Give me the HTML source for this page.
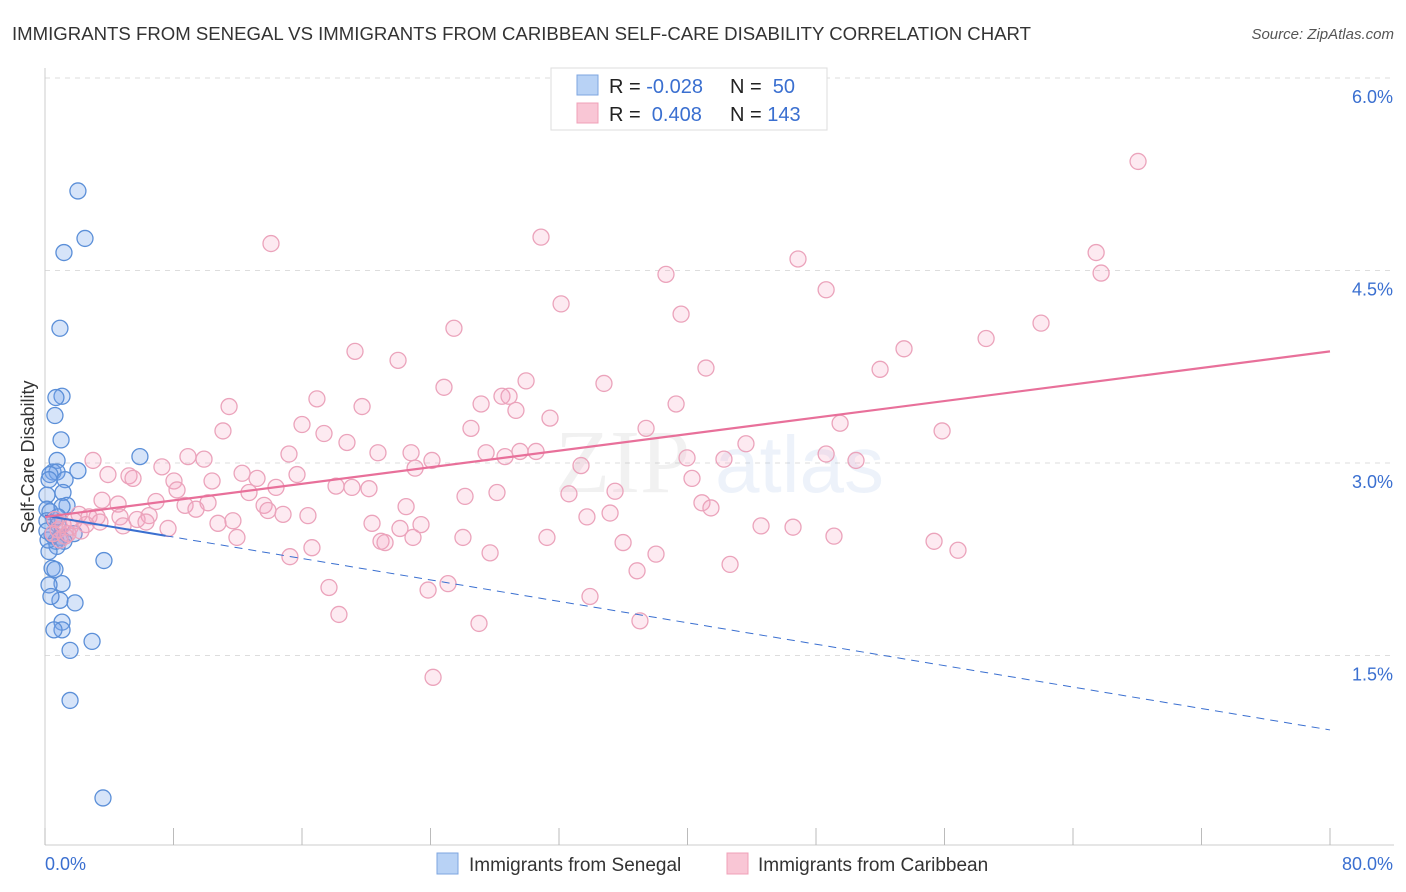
<!DOCTYPE html>
<html><head><meta charset="utf-8">
<style>
body{margin:0;background:#fff;font-family:"Liberation Sans",sans-serif;}
svg{display:block}
</style></head>
<body>
<svg id="chart" width="1406" height="892" xmlns="http://www.w3.org/2000/svg">
<text x="12" y="40" font-size="18.6" fill="#333">IMMIGRANTS FROM SENEGAL VS IMMIGRANTS FROM CARIBBEAN SELF-CARE DISABILITY CORRELATION CHART</text>
<text x="1394" y="39" font-size="15" fill="#555" text-anchor="end" font-style="italic">Source: ZipAtlas.com</text>
<g id="grid"></g>
<g opacity="0.13">
<text x="555" y="492" font-size="90" font-family="Liberation Serif" fill="#999">ZIP</text>
<text x="715" y="492" font-size="80" fill="#7aa3dd">atlas</text>
</g>
<g id="axes"></g>
<g id="blue"></g>
<g id="pink"></g>
<g id="lines"></g>
<text transform="translate(34,457) rotate(-90)" font-size="18" fill="#333" text-anchor="middle">Self-Care Disability</text>
<g>
<rect x="551" y="68" width="276" height="62" fill="#fff" stroke="#ddd"/>
<rect x="577" y="75" width="21" height="20" fill="#b8d2f5" stroke="#7ea6e0"/>
<rect x="577" y="103" width="21" height="20" fill="#f9c6d5" stroke="#f0a0b8"/>
<text x="609" y="93" font-size="20" fill="#222">R = <tspan fill="#3a6fd0">-0.028</tspan></text>
<text x="730" y="93" font-size="20" fill="#222">N = <tspan fill="#3a6fd0">&#160;50</tspan></text>
<text x="609" y="121" font-size="20" fill="#222">R = <tspan fill="#3a6fd0">&#160;0.408</tspan></text>
<text x="730" y="121" font-size="20" fill="#222">N = <tspan fill="#3a6fd0">143</tspan></text>
</g>
<g>
<rect x="437" y="853" width="21" height="21" fill="#b8d2f5" stroke="#7ea6e0"/>
<text x="469" y="871" font-size="19" fill="#333">Immigrants from Senegal</text>
<rect x="727" y="853" width="21" height="21" fill="#f9c6d5" stroke="#f0a0b8"/>
<text x="758" y="871" font-size="19" fill="#333">Immigrants from Caribbean</text>
</g>
</svg>
<script>
const yTicks=[1.5,3.0,4.5,6.0];
const yTickLabels=["1.5%","3.0%","4.5%","6.0%"];
const xTicks=[0,8,16,24,32,40,48,56,64,72,80];
const xEndLabels=["0.0%","80.0%"];
const blueX=[2.05,2.49,1.18,0.93,1.06,0.68,0.62,1.00,5.91,0.75,0.50,0.75,0.31,2.05,0.25,1.25,1.12,0.12,1.37,0.12,1.06,0.31,0.56,0.12,0.81,1.81,0.93,0.68,1.18,0.75,3.67,0.25,0.44,0.62,1.06,0.25,0.93,1.87,0.37,1.06,1.06,0.56,2.93,1.56,1.56,3.61,0.19,0.44,0.12,0.81];
const blueY=[5.12,4.75,4.64,4.05,3.52,3.51,3.37,3.18,3.05,3.02,2.93,2.93,2.91,2.94,2.87,2.87,2.77,2.75,2.67,2.64,2.66,2.62,2.56,2.55,2.52,2.45,2.42,2.39,2.39,2.35,2.24,2.31,2.18,2.17,2.06,2.05,1.93,1.91,1.96,1.76,1.70,1.70,1.61,1.54,1.15,0.39,2.40,2.44,2.47,2.58];
const pinkX=[68.05,14.07,30.88,46.88,38.66,65.44,65.75,48.63,32.13,39.60,25.46,62.01,58.59,19.30,53.48,21.98,41.15,51.99,24.84,29.95,34.80,16.93,11.46,19.74,27.15,28.45,28.89,29.32,31.44,39.29,16.00,11.08,26.52,37.42,55.85,49.50,17.37,18.80,15.19,20.73,22.79,27.46,29.57,30.57,28.64,43.64,48.63,50.49,39.97,42.27,2.99,8.90,9.90,7.28,24.09,23.04,33.37,12.27,13.20,15.69,5.23,3.92,5.48,8.03,8.22,10.40,14.38,12.70,18.12,19.11,20.17,26.15,28.14,32.62,35.49,40.28,3.55,4.55,6.91,10.15,8.72,9.40,13.64,13.88,14.82,16.37,22.48,40.90,41.46,6.48,3.24,2.12,2.74,1.81,4.67,2.55,11.70,10.77,20.36,22.10,23.41,35.18,33.74,44.58,46.57,1.12,0.81,1.43,5.73,6.29,4.86,7.66,11.95,20.92,21.17,22.91,26.02,31.25,35.99,49.12,55.35,56.84,16.62,15.25,27.71,38.04,42.65,36.86,17.68,25.09,23.85,33.93,18.30,27.02,37.04,24.16,0.93,1.25,0.62,1.56,2.24,3.42,0.50];
const pinkY=[5.35,4.71,4.76,4.59,4.47,4.64,4.48,4.35,4.24,4.16,4.05,4.09,3.97,3.87,3.89,3.80,3.74,3.73,3.59,3.64,3.62,3.50,3.44,3.44,3.46,3.52,3.52,3.41,3.35,3.46,3.30,3.25,3.27,3.27,3.25,3.31,3.23,3.16,3.07,3.08,3.08,3.08,3.09,3.09,3.05,3.15,3.07,3.02,3.04,3.03,3.02,3.05,3.03,2.97,3.02,2.96,2.98,2.92,2.88,2.91,2.90,2.91,2.88,2.86,2.79,2.86,2.81,2.77,2.82,2.81,2.80,2.74,2.77,2.76,2.78,2.88,2.71,2.68,2.70,2.69,2.67,2.64,2.67,2.63,2.60,2.59,2.66,2.69,2.65,2.59,2.58,2.60,2.58,2.55,2.58,2.52,2.55,2.53,2.53,2.49,2.52,2.61,2.58,2.51,2.50,2.52,2.48,2.45,2.56,2.54,2.51,2.49,2.42,2.39,2.38,2.42,2.42,2.42,2.38,2.43,2.39,2.32,2.34,2.27,2.30,2.29,2.21,2.16,2.03,2.06,2.01,1.96,1.82,1.75,1.77,1.33,2.40,2.43,2.56,2.50,2.47,2.54,2.45];
const pinkTrend=[2.58,3.87];
const blueTrend=[2.59,0.92];
const blueSolidEnd=7.5;

const NS="http://www.w3.org/2000/svg";
const X0=45,X1=1330,YB=848,PXPER=128.33;
const sx=v=>X0+v/80*(X1-X0);
const sy=v=>YB-v*PXPER;
function mk(tag,attrs,parent){const e=document.createElementNS(NS,tag);for(const k in attrs)e.setAttribute(k,attrs[k]);parent.appendChild(e);return e;}
const grid=document.getElementById('grid'),axes=document.getElementById('axes');
yTicks.forEach((t,i)=>{
  const l=mk('line',{x1:X0,x2:1394,y1:sy(t),y2:sy(t),stroke:'#ddd','stroke-dasharray':'5,5'},grid);
  
  
  const tx=mk('text',{x:1393,y:sy(t)+25,'font-size':18,fill:'#3a6fd0','text-anchor':'end'},axes);
  tx.textContent=yTickLabels[i];
  
  
});
const ax=mk('line',{x1:X0,x2:1394,y1:845,y2:845,stroke:'#ccc'},axes);


const ay=mk('line',{x1:X0,x2:X0,y1:68,y2:845,stroke:'#ccc'},axes);


xTicks.forEach(t=>{
  const l=mk('line',{x1:sx(t),x2:sx(t),y1:828,y2:845,stroke:'#bbb'},axes);
  
  
});
const xl0=mk('text',{x:45,y:870,'font-size':18,fill:'#3a6fd0'},axes);xl0.textContent=xEndLabels[0];


const xl1=mk('text',{x:1393,y:870,'font-size':18,fill:'#3a6fd0','text-anchor':'end'},axes);xl1.textContent=xEndLabels[1];


const bg=document.getElementById('blue'),pg=document.getElementById('pink'),lg=document.getElementById('lines');
blueX.forEach((v,i)=>{
  const c=mk('circle',{cx:sx(v),cy:sy(blueY[i]),r:8,fill:'rgba(120,165,235,0.3)',stroke:'#5b8fd8','stroke-width':1.3},bg);
  
  
});
pinkX.forEach((v,i)=>{
  const c=mk('circle',{cx:sx(v),cy:sy(pinkY[i]),r:8,fill:'rgba(245,160,190,0.22)',stroke:'#eba3bb','stroke-width':1.3},pg);
  
  
});
const bAt=x=>blueTrend[0]+(blueTrend[1]-blueTrend[0])*x/80;
const b1=mk('line',{x1:sx(0),y1:sy(bAt(0)),x2:sx(blueSolidEnd),y2:sy(bAt(blueSolidEnd)),stroke:'#3a6fd0','stroke-width':2},lg);


const b2=mk('line',{x1:sx(blueSolidEnd),y1:sy(bAt(blueSolidEnd)),x2:sx(80),y2:sy(bAt(80)),stroke:'#3a6fd0','stroke-width':1,'stroke-dasharray':'8,6'},lg);


const p1=mk('line',{x1:sx(0),y1:sy(pinkTrend[0]),x2:sx(80),y2:sy(pinkTrend[1]),stroke:'#e8709a','stroke-width':2.2},lg);


</script>
</body></html>
